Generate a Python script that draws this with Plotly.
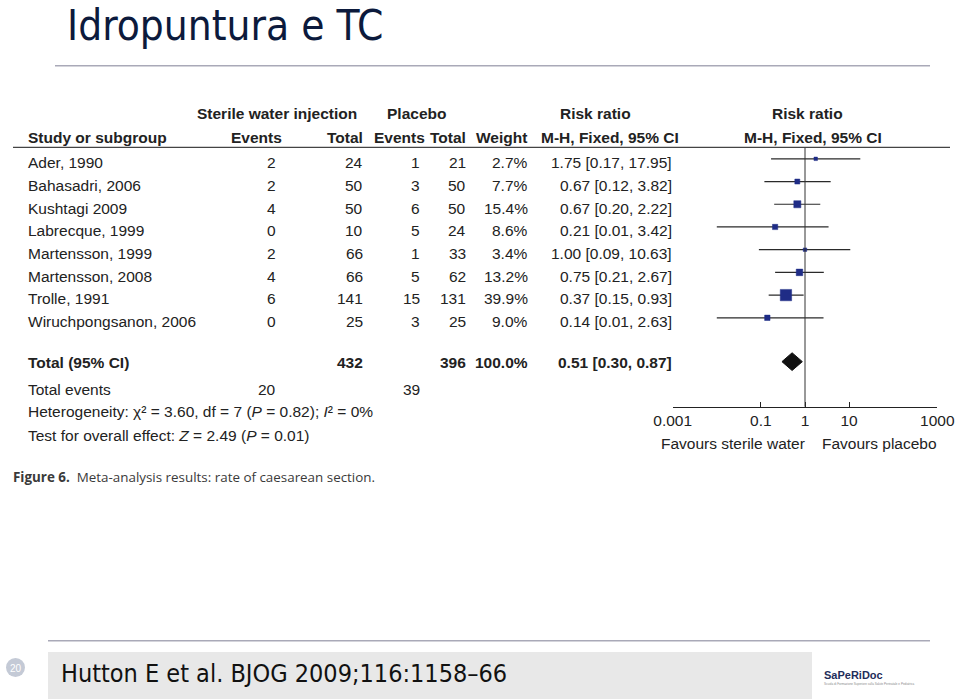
import plotly.graph_objects as go

# ---------------------------------------------------------------- data
studies = ["Ader, 1990", "Bahasadri, 2006", "Kushtagi 2009", "Labrecque, 1999",
           "Martensson, 1999", "Martensson, 2008", "Trolle, 1991",
           "Wiruchpongsanon, 2006"]
sw_events = [2, 2, 4, 0, 2, 4, 6, 0]
sw_total = [24, 50, 50, 10, 66, 66, 141, 25]
pl_events = [1, 3, 6, 5, 1, 5, 15, 3]
pl_total = [21, 50, 50, 24, 33, 62, 131, 25]
weight = [2.7, 7.7, 15.4, 8.6, 3.4, 13.2, 39.9, 9.0]
rr = [1.75, 0.67, 0.67, 0.21, 1.00, 0.75, 0.37, 0.14]
ci_low = [0.17, 0.12, 0.20, 0.01, 0.09, 0.21, 0.15, 0.01]
ci_high = [17.95, 3.82, 2.22, 3.42, 10.63, 2.67, 0.93, 2.63]

total_sw, total_pl = 432, 396
total_weight = 100.0
total_rr, total_low, total_high = 0.51, 0.30, 0.87
events_sw, events_pl = 20, 39

tick_vals = [0.001, 0.1, 1, 10, 1000]
tick_text = ["0.001", "0.1", "1", "10", "1000"]

# ---------------------------------------------------------------- layout helpers
W, H = 960, 699
ROW0, ROW_H = 162.7, 22.71           # pixel centre of first study row, row pitch
TOP_PX, BOT_PX = 100, 460            # y-axis domain in pixels
AXIS_PX = 406.7                      # x axis line (pixels)


def row_of(px):
    return (px - ROW0) / ROW_H


def py(px):
    return 1 - px / H


def px_x(px):
    return px / W


TXT = "#222222"
FONT = "Liberation Sans"
NARROW = "Liberation Sans Narrow, DejaVu Sans Condensed, Roboto"
FS = 15.5
NAVY = "#1f2c86"

fig = go.Figure()

# confidence intervals
ci_x, ci_y = [], []
for i in range(len(studies)):
    ci_x += [ci_low[i], ci_high[i], None]
    ci_y += [i - 0.17, i - 0.17, None]
fig.add_trace(go.Scatter(x=ci_x, y=ci_y, mode="lines",
                         line=dict(color="#2a2a2a", width=1.2),
                         hoverinfo="skip", showlegend=False))

# weighted squares
fig.add_trace(go.Scatter(
    x=rr, y=[i - 0.17 for i in range(len(studies))], mode="markers",
    marker=dict(symbol="square", color=NAVY, opacity=1,
                size=[max(3.5, 1.8 * w ** 0.5) for w in weight],
                line=dict(width=0.5, color=NAVY)),
    hoverinfo="skip", showlegend=False))

# pooled diamond
r_tot = row_of(363) - 0.06
fig.add_trace(go.Scatter(
    x=[total_low, total_rr, total_high, total_rr, total_low],
    y=[r_tot, r_tot - 0.39, r_tot, r_tot + 0.39, r_tot],
    mode="lines", fill="toself", fillcolor="#111111",
    line=dict(color="#111111", width=1),
    hoverinfo="skip", showlegend=False))

# line of no effect
fig.add_shape(type="line", xref="x", yref="y", x0=1, x1=1,
              y0=row_of(147.3), y1=row_of(AXIS_PX),
              line=dict(color="#333333", width=1))

# header rule of the table
fig.add_shape(type="line", xref="paper", yref="paper",
              x0=px_x(13), x1=px_x(950), y0=py(147.3), y1=py(147.3),
              line=dict(color="#444444", width=1.2))

# slide rules
fig.add_shape(type="line", xref="paper", yref="paper",
              x0=px_x(55), x1=px_x(930), y0=py(65.7), y1=py(65.7),
              line=dict(color="#a9a9b8", width=1.5))
fig.add_shape(type="line", xref="paper", yref="paper",
              x0=px_x(48), x1=px_x(930), y0=py(640.7), y1=py(640.7),
              line=dict(color="#a9a9b8", width=1.5))
# footer box
fig.add_shape(type="rect", xref="paper", yref="paper",
              x0=px_x(48), x1=px_x(812), y0=py(699), y1=py(652),
              fillcolor="#e8e8e8", line=dict(width=0), layer="below")
# page number disc
fig.add_shape(type="circle", xref="paper", yref="paper",
              x0=px_x(6), x1=px_x(25), y0=py(677), y1=py(658),
              fillcolor="#c4cad6", line=dict(width=0))


def text(s, x, y, anchor="left", size=FS, color=TXT, bold=False, family=FONT,
         yanchor="middle"):
    if bold:
        s = "<b>" + s + "</b>"
    fig.add_annotation(text=s, x=px_x(x), y=py(y), xref="paper", yref="paper",
                       xanchor=anchor, yanchor=yanchor, showarrow=False,
                       borderpad=0,
                       font=dict(family=family, size=size, color=color))


# column headers
text("Sterile water injection", 277, 114, "center", bold=True)
text("Placebo", 416, 114, "center", bold=True)
text("Risk ratio", 595, 114, "center", bold=True)
text("Risk ratio", 807, 114, "center", bold=True)
text("Study or subgroup", 27, 137, bold=True)
text("Events", 283, 137, "right", bold=True)
text("Total", 364, 137, "right", bold=True)
text("Events", 426, 137, "right", bold=True)
text("Total", 467, 137, "right", bold=True)
text("Weight", 528, 137, "right", bold=True)
text("M-H, Fixed, 95% CI", 610, 137, "center", bold=True)
text("M-H, Fixed, 95% CI", 813, 137, "center", bold=True)

# study rows
for i, name in enumerate(studies):
    y = ROW0 + ROW_H * i
    text(name, 27, y)
    text(str(sw_events[i]), 277, y, "right")
    text(str(sw_total[i]), 364, y, "right")
    text(str(pl_events[i]), 421, y, "right")
    text(str(pl_total[i]), 467, y, "right")
    text(f"{weight[i]:.1f}%", 529, y, "right")
    text(f"{rr[i]:.2f} [{ci_low[i]:.2f}, {ci_high[i]:.2f}]", 673, y, "right")

# totals
text("Total (95% CI)", 27, 363, bold=True)
text(str(total_sw), 364, 363, "right", bold=True)
text(str(total_pl), 467, 363, "right", bold=True)
text(f"{total_weight:.1f}%", 529, 363, "right", bold=True)
text(f"{total_rr:.2f} [{total_low:.2f}, {total_high:.2f}]", 673, 363, "right", bold=True)
text("Total events", 27, 389)
text(str(events_sw), 277, 389, "right")
text(str(events_pl), 421, 389, "right")
text("Heterogeneity: χ² = 3.60, df = 7 (<i>P</i> = 0.82); <i>I</i>² = 0%", 27, 412)
text("Test for overall effect: <i>Z</i> = 2.49 (<i>P</i> = 0.01)", 27, 435)

# axis captions
text("Favours sterile water", 733, 443, "center")
text("Favours placebo", 879, 443, "center")

# figure caption
text("<b>Figure 6.</b>  Meta-analysis results: rate of caesarean section.",
     12, 477, size=13.4, color="#3a3a3a", family="Open Sans")

# slide title / footer
text("Idropuntura e TC", 66, 0.5, size=42, color="#0c1a3c", family=NARROW,
     yanchor="top")
text("Hutton E et al. BJOG 2009;116:1158–66", 60, 673, size=25, color="#111111",
     family=NARROW)
text("20", 15.5, 668, "center", size=10, color="#ffffff")
text("SaPeRiDoc", 823, 675, size=11, color="#1f2d5a", bold=True)
text("Scuola di Formazione Superiore sulla Salute Perinatale e Pediatrica", 823, 684,
     size=3, color="#8a8a8a")

fig.update_layout(
    width=W, height=H,
    margin=dict(l=0, r=0, t=0, b=0, autoexpand=False),
    paper_bgcolor="white", plot_bgcolor="rgba(0,0,0,0)",
    showlegend=False,
    xaxis=dict(type="log", range=[-3, 3],
               domain=[px_x(672.7), px_x(937.3)],
               anchor="free", position=py(AXIS_PX), automargin=False,
               showgrid=False, zeroline=False,
               showline=True, linecolor="#222222", linewidth=1.2,
               ticks="inside", ticklen=5, tickcolor="#222222", tickwidth=1.2,
               tickvals=tick_vals, ticktext=tick_text,
               tickfont=dict(family=FONT, size=FS, color=TXT)),
    yaxis=dict(range=[row_of(BOT_PX), row_of(TOP_PX)],
               domain=[py(BOT_PX), py(TOP_PX)], automargin=False,
               visible=False, showgrid=False, zeroline=False),
)

# drop the default page margin so the slide fills the window
fig.write_html("out.html", config={"displayModeBar": False},
               post_script="document.body.style.margin = '0';")
